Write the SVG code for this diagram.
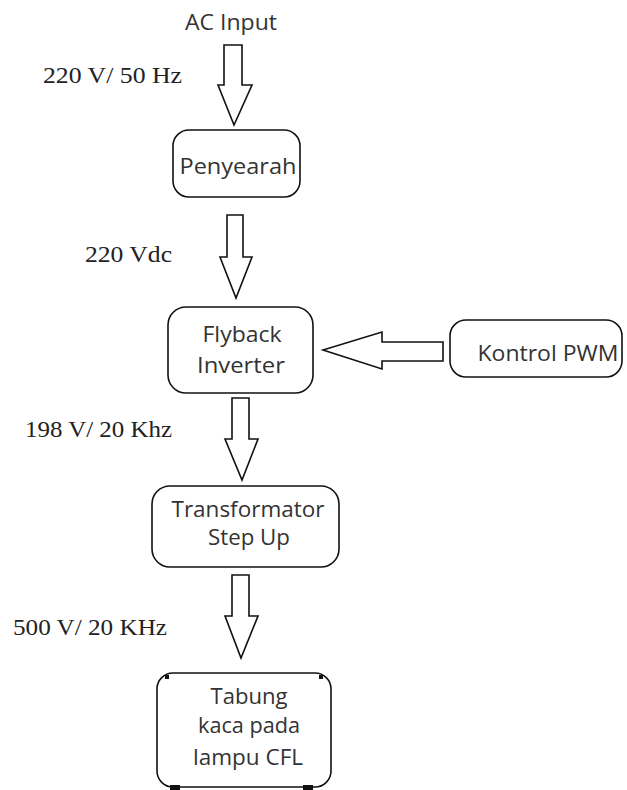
<svg xmlns="http://www.w3.org/2000/svg" width="627" height="790" viewBox="0 0 627 790">
<style>
.box{fill:#fff;stroke:#111;stroke-width:1.6}
.arr{fill:#fff;stroke:#111;stroke-width:1.6;stroke-linejoin:miter}
.t{font-family:"Open Sans","Liberation Sans",sans-serif;font-size:21px;fill:#333;text-anchor:middle}
.s{font-family:"Liberation Serif","Times New Roman",serif;font-size:23px;fill:#222}
</style>
<rect width="627" height="790" fill="#fff"/>
<g id="connectors">
<polygon class="arr" points="224,45 242,45 242,85 252,85 234,125 218,85 224,85"/>
<polygon class="arr" points="227,215 243,215 243,257 252,257 236,298 220,257 227,257"/>
<polygon class="arr" points="443,342 443,361 382,361 382,369 323,350 382,332 382,342"/>
<polygon class="arr" points="232,398 249,398 249,439 258,439 242,480 225,439 232,439"/>
<polygon class="arr" points="232,575 249,575 249,616 258,616 241,658 225,616 232,616"/>
</g>
<g id="ac-input"><text class="t" x="231" y="30" textLength="92" lengthAdjust="spacingAndGlyphs">AC Input</text></g>
<g id="label-220v50"><text class="s" x="43" y="83" textLength="139" lengthAdjust="spacingAndGlyphs">220 V/ 50 Hz</text></g>
<g id="penyearah"><rect class="box" x="173" y="130" width="127" height="67" rx="16"/><text class="t" x="238" y="174" textLength="117" lengthAdjust="spacingAndGlyphs">Penyearah</text></g>
<g id="label-220vdc"><text class="s" x="85" y="262" textLength="87" lengthAdjust="spacingAndGlyphs">220 Vdc</text></g>
<g id="flyback"><rect class="box" x="168" y="307" width="145" height="86" rx="18"/><text class="t" x="242" y="342" textLength="79" lengthAdjust="spacingAndGlyphs">Flyback</text><text class="t" x="241" y="373" textLength="88" lengthAdjust="spacingAndGlyphs">Inverter</text></g>
<g id="kontrol-pwm"><rect class="box" x="450" y="320" width="172" height="57" rx="16"/><text class="t" x="548" y="361" textLength="141" lengthAdjust="spacingAndGlyphs">Kontrol PWM</text></g>
<g id="label-198v"><text class="s" x="25" y="437" textLength="147" lengthAdjust="spacingAndGlyphs">198 V/ 20 Khz</text></g>
<g id="transformator"><rect class="box" x="152" y="486" width="187" height="81" rx="18"/><text class="t" x="248" y="517" textLength="153" lengthAdjust="spacingAndGlyphs">Transformator</text><text class="t" x="249" y="545" textLength="82" lengthAdjust="spacingAndGlyphs">Step Up</text></g>
<g id="label-500v"><text class="s" x="13" y="635" textLength="154" lengthAdjust="spacingAndGlyphs">500 V/ 20 KHz</text></g>
<g id="tabung"><rect class="box" x="157" y="673" width="174" height="114" rx="16"/>
<rect x="165" y="675" width="4" height="4" fill="#111"/><rect x="319" y="675" width="4" height="4" fill="#111"/>
<rect x="170" y="785" width="10" height="5" fill="#111"/><rect x="303" y="785" width="10" height="5" fill="#111"/>
<text class="t" x="249" y="704" textLength="77" lengthAdjust="spacingAndGlyphs">Tabung</text><text class="t" x="249" y="733" textLength="102" lengthAdjust="spacingAndGlyphs">kaca pada</text><text class="t" x="248" y="765" textLength="110" lengthAdjust="spacingAndGlyphs">lampu CFL</text></g>
</svg>
